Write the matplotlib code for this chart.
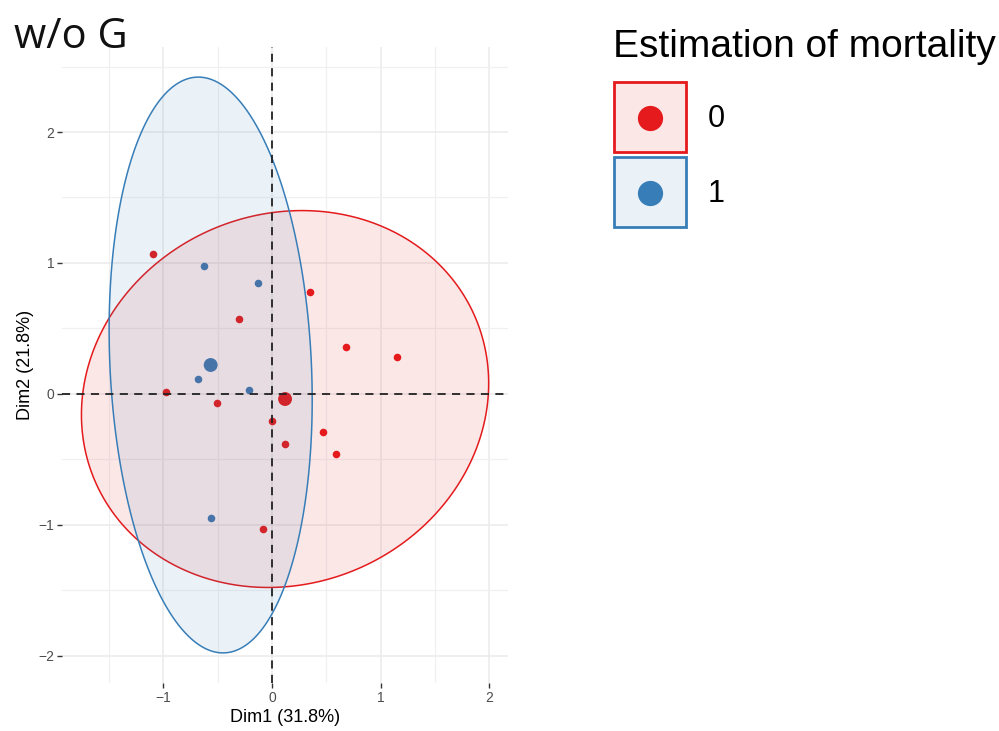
import numpy as np
import matplotlib.pyplot as plt
from matplotlib.patches import Polygon, Rectangle

plt.rcParams['font.family'] = ['Liberation Sans', 'DejaVu Sans']

# individuals, group 0 (red) and group 1 (blue)
red_x = [-1.10, 0.35, -0.30, 0.68, 1.15, -0.98, -0.51, 0.00, 0.47, 0.12, 0.59, -0.08]
red_y = [1.07, 0.78, 0.57, 0.36, 0.28, 0.01, -0.07, -0.21, -0.29, -0.38, -0.46, -1.03]
blue_x = [-0.63, -0.13, -0.68, -0.21, -0.56]
blue_y = [0.98, 0.85, 0.11, 0.03, -0.95]

# group means
centroid_x = [0.12, -0.565]
centroid_y = [-0.04, 0.22]

# ellipse shape: sd along x, sd along y, covariance term
ell_sx = [1.875, 0.935]
ell_sy = [1.44, 2.2]
ell_cxy = [0.225, -0.25]

groups = ['0', '1']
colors = ['#E41A1C', '#377EB8']
legend_title = 'Estimation of mortality'

fig = plt.figure(figsize=(9.99, 7.31), dpi=100)
ax = fig.add_axes([62 / 999, 1 - 683 / 731, (508 - 62) / 999, (683 - 47) / 731])

ax.set_xlim(-1.934, 2.173)
ax.set_ylim(-2.21, 2.65)
ax.set_xticks([-1, 0, 1, 2])
ax.set_yticks([-2, -1, 0, 1, 2])
ax.set_xticks([-1.5, -0.5, 0.5, 1.5], minor=True)
ax.set_yticks([-1.5, -0.5, 0.5, 1.5, 2.5], minor=True)
ax.grid(True, which='major', color='#EBEBEB', lw=1.1, zorder=0)
ax.grid(True, which='minor', color='#F0F0F0', lw=0.9, zorder=0)
ax.tick_params(which='major', length=3.5, width=1, color='#333333', pad=2,
               labelsize=10, labelcolor='#4D4D4D')
ax.tick_params(which='minor', length=0)
for s in ax.spines.values():
    s.set_visible(False)
ax.set_xticklabels(['\u22121', '0', '1', '2'])
ax.set_yticklabels(['\u22122', '\u22121', '0', '1', '2'])

ax.set_xlabel('Dim1 (31.8%)', fontsize=13, labelpad=3)
ax.set_ylabel('Dim2 (21.8%)', fontsize=13, labelpad=3)

ax.axhline(0, color='#222222', lw=1.3, ls=(0, (4.5, 3.5)), zorder=4)
ax.axvline(0, color='#222222', lw=1.3, ls=(0, (4.5, 3.5)), zorder=4)

ax.scatter(red_x, red_y, s=30, color=colors[0], zorder=2, linewidths=0)
ax.scatter(blue_x, blue_y, s=30, color=colors[1], zorder=2, linewidths=0)
ax.scatter(centroid_x, centroid_y, s=100, color=colors, zorder=2, linewidths=0)

t = np.linspace(0, 2 * np.pi, 300)
for i in range(2):
    m = np.array([[ell_sx[i] ** 2, ell_cxy[i]], [ell_cxy[i], ell_sy[i] ** 2]])
    L = np.linalg.cholesky(m)
    pts = (L @ np.vstack([np.cos(t), np.sin(t)])).T + [centroid_x[i], centroid_y[i]]
    ax.add_patch(Polygon(pts, closed=True, facecolor=colors[i], alpha=0.1,
                         edgecolor='none', zorder=3))
    ax.add_patch(Polygon(pts, closed=True, facecolor='none',
                         edgecolor=colors[i], lw=1.1, zorder=3))

fig.text(14 / 999, 1 - 48 / 731, 'w/o G', fontsize=30, family='Open Sans',
         ha='left', va='baseline', color='#111111')

# legend drawn in figure pixel space
lax = fig.add_axes([0, 0, 1, 1])
lax.set_xlim(0, 999)
lax.set_ylim(731, 0)
lax.axis('off')
lax.text(613, 57, legend_title, fontsize=28, ha='left', va='baseline')
key_top = [82, 157]
for i in range(2):
    lax.add_patch(Rectangle((614, key_top[i]), 72, 70, facecolor=colors[i],
                            alpha=0.1, edgecolor='none'))
    lax.add_patch(Rectangle((614, key_top[i]), 72, 70, facecolor='none',
                            edgecolor=colors[i], lw=2))
    lax.scatter([650], [key_top[i] + 36], s=330, color=colors[i], linewidths=0)
    lax.text(708, key_top[i] + 37, groups[i], fontsize=22, ha='left', va='center')

fig.savefig('out.png', dpi=100, facecolor='white')
